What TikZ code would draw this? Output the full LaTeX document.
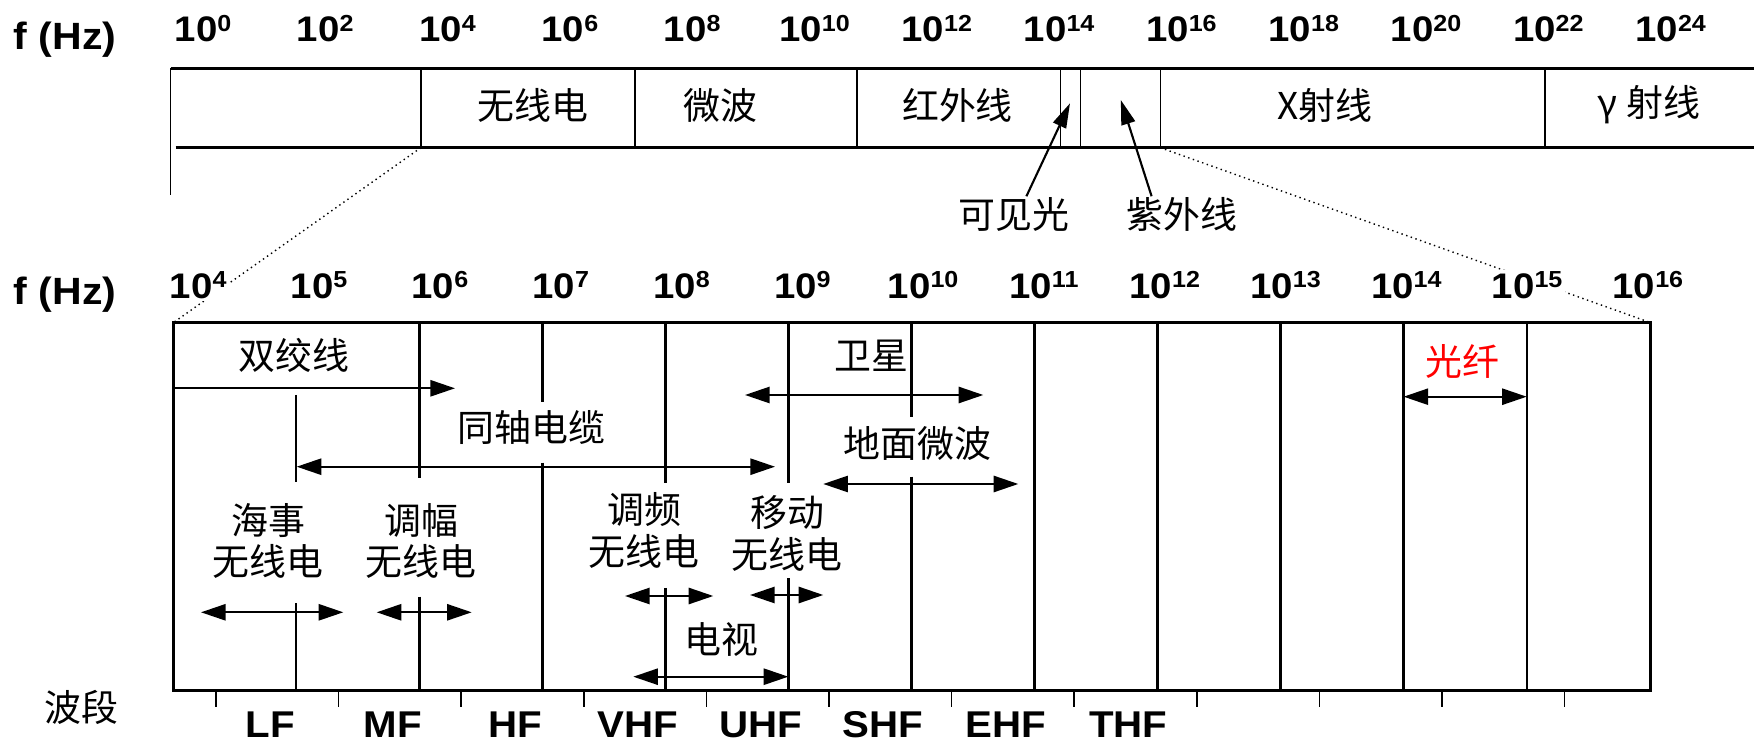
\documentclass[tikz,border=0pt]{standalone}
\usepackage{fontspec}
\setmainfont{Liberation Sans}
\newfontfamily\cjk{Noto Sans CJK SC}
\newfontfamily\latb{Liberation Sans}[FakeStretch=1.08]
\usetikzlibrary{arrows.meta}
\newcommand\tenp[1]{10\raisebox{3pt}{\fontsize{6.6}{6.6}\selectfont #1}}

\begin{document}
\begin{tikzpicture}[x=0.01cm,y=-0.01cm,
  hz/.style={font=\latb\bfseries\fontsize{10.1}{11}\selectfont, inner sep=0pt},
  fhz/.style={hz, anchor=base, font=\latb\bfseries\fontsize{10.8}{12}\selectfont},
  expo/.style={hz, anchor=base, fill=white, inner sep=0.6pt},
  band/.style={hz, font=\latb\bfseries\fontsize{10.6}{12}\selectfont},
  zh/.style={font=\cjk\fontsize{10.5}{11.9}\selectfont, align=center, inner sep=0pt},
  bar/.style={line width=0.85pt},
  sep/.style={line width=0.45pt},
  grid/.style={line width=0.65pt},
  rng/.style={line width=0.6pt, {Triangle[length=7pt,width=4.6pt]}-{Triangle[length=7pt,width=4.6pt]}},
  rngr/.style={line width=0.6pt, -{Triangle[length=7pt,width=4.6pt]}},
  ptr/.style={line width=0.6pt, -{Triangle[length=7pt,width=4pt]}},
  zoomline/.style={densely dotted, line width=0.4pt}]

  \useasboundingbox (0,0) rectangle (1754,743);

  % whole spectrum
  \node[fhz] (fa) at (65,50) {f (Hz)};
  \foreach \e [count=\i from 0] in {0,2,...,24}
    \node[expo] (t\e) at ({203+122.3*\i},41.7) {\tenp{\e}};

  \draw[bar] (170.7,68.3) -- (1754,68.3);
  \draw[bar] (175.7,147.7) -- (1754,147.7);
  \draw[sep] (170.7,68.3) -- (170.7,195);
  \foreach \x in {420.9,635.2,857,1060.5,1080.3,1160.3,1544.8}
    \draw[sep] (\x,68.3) -- (\x,147.7);

  \node[zh] (radio) at (533,105)   {无线电};
  \node[zh] (micro) at (720,105)   {微波};
  \node[zh] (ir)    at (957.5,105) {红外线};
  \node[zh] (xray)  at (1325,105)  {X射线};
  \node[zh] (gamma) at (1649,105)  {γ 射线};

  \node[zh] (vis) at (1014,214)   {可见光};
  \node[zh] (uv)  at (1182.3,214) {紫外线};
  \coordinate (vis-p) at (1070,103.3);
  \coordinate (uv-p)  at (1120.8,100);
  \draw[ptr] (vis.55) -- (vis-p);
  \draw[ptr] (uv.150) -- (uv-p);

  % zoom lines
  \coordinate (cut-a)  at (420.9,147.7);
  \coordinate (cut-b)  at (1160.3,147.7);
  \coordinate (box-nw) at (173.3,322.7);
  \coordinate (box-ne) at (1650.7,322.7);
  \draw[zoomline] (cut-a) -- (box-nw);
  \draw[zoomline] (cut-b) -- (box-ne);

  % communication bands
  \node[fhz] (fb) at (65,305) {f (Hz)};
  \foreach \e [count=\i from 0] in {4,...,16}
    \node[expo] (b\e) at ({198.3+120.8*\i},298.3) {\tenp{\e}};

  \draw[grid] (296.3,395) -- (296.3,481.7) (296.3,603.3) -- (296.3,690.7);
  \draw[grid] (419.4,322.7) -- (419.4,478) (419.4,596.7) -- (419.4,690.7);
  \draw[grid] (542.4,322.7) -- (542.4,401.7) (542.4,462.7) -- (542.4,690.7);
  \draw[grid] (665.4,322.7) -- (665.4,483.3) (665.4,588) -- (665.4,690.7);
  \draw[grid] (788.5,322.7) -- (788.5,483.3) (788.5,578.3) -- (788.5,690.7);
  \draw[grid] (911.5,322.7) -- (911.5,416.7) (911.5,476.7) -- (911.5,690.7);
  \foreach \k in {7,...,11}
    \draw[grid] ({173.3+123.03*\k},322.7) -- ++(0,368);
  \draw[bar] (box-nw) rectangle (1650.7,690.7);

  \node[zh] (twist) at (294,355.8)   {双绞线};
  \node[zh] (coax)  at (531.7,427.5) {同轴电缆};
  \node[zh] (sat)   at (871.7,355.3) {卫星};
  \node[zh] (terr)  at (917.5,443.3) {地面微波};
  \node[zh] (mar)   at (268,541)     {海事\\无线电};
  \node[zh] (am)    at (421,541)     {调幅\\无线电};
  \node[zh] (fm)    at (644,530.5)   {调频\\无线电};
  \node[zh] (mob)   at (787,533.3)   {移动\\无线电};
  \node[zh] (tv)    at (721.7,639.2) {电视};
  \node[zh, text=red] (fib) at (1462,361) {光纤};

  \coordinate (twist-l) at (173.3,388.3);  \coordinate (twist-r) at (455,388.3);
  \coordinate (coax-l)  at (296.7,466.7);  \coordinate (coax-r)  at (775,466.7);
  \coordinate (sat-l)   at (745,395);      \coordinate (sat-r)   at (983.3,395);
  \coordinate (terr-l)  at (823.3,484);    \coordinate (terr-r)  at (1018.3,484);
  \coordinate (mar-l)   at (201,612.3);    \coordinate (mar-r)   at (343.3,612.3);
  \coordinate (am-l)    at (376.7,612.3);  \coordinate (am-r)    at (471.7,612.3);
  \coordinate (fm-l)    at (625,596);      \coordinate (fm-r)    at (713.3,596);
  \coordinate (mob-l)   at (750,595);      \coordinate (mob-r)   at (823.3,595);
  \coordinate (tv-l)    at (633.3,676.7);  \coordinate (tv-r)    at (788.3,676.7);
  \coordinate (fib-l)   at (1403.6,396.7); \coordinate (fib-r)   at (1526.7,396.7);

  \draw[rngr] (twist-l) -- (twist-r);
  \draw[rng] (coax-l) -- (coax-r);
  \draw[rng] (sat-l) -- (sat-r);
  \draw[rng] (terr-l) -- (terr-r);
  \draw[rng] (mar-l) -- (mar-r);
  \draw[rng] (am-l) -- (am-r);
  \draw[rng] (fm-l) -- (fm-r);
  \draw[rng] (mob-l) -- (mob-r);
  \draw[rng] (tv-l) -- (tv-r);
  \draw[rng] (fib-l) -- (fib-r);

  % band names
  \node[zh] (band) at (81.7,707.5) {波段};
  \foreach \k in {0,...,11}
    \draw[sep] ({216+122.6*\k},690.7) -- ++(0,16);
  \foreach \b [count=\i from 0] in {LF,MF,HF,VHF,UHF,SHF,EHF,THF}
    \node[band] (\b) at ({270+122.6*\i},725) {\b};
\end{tikzpicture}
\end{document}
